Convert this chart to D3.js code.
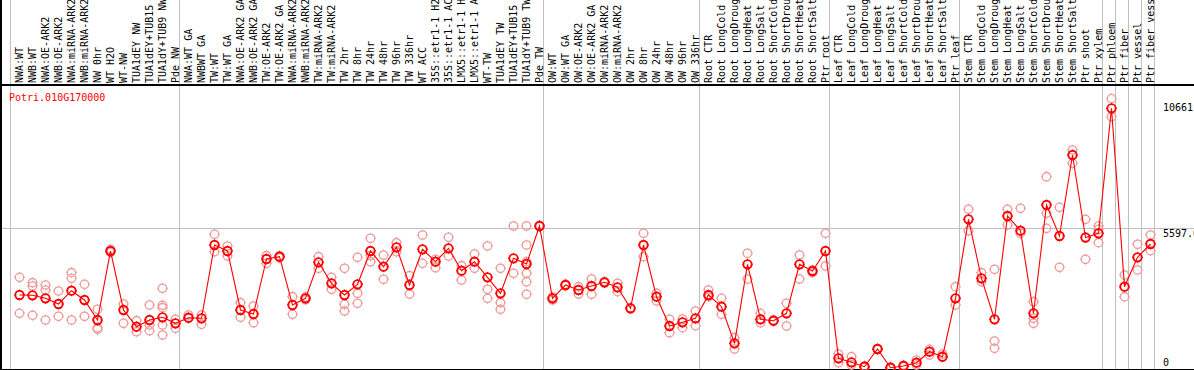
<!DOCTYPE html>
<html>
<head>
<meta charset="utf-8">
<title>Potri.010G170000</title>
<script src="https://d3js.org/d3.v7.min.js"></script>
<style>
  body { margin: 0; background: #fff; }
  text { font-family: "DejaVu Sans Mono", monospace; font-size: 10px; }
  .sep { stroke: #c0c0c0; stroke-width: 1px; shape-rendering: crispEdges; }
  .frame { stroke: #000; stroke-width: 1.5px; shape-rendering: crispEdges; }
</style>
</head>
<body>
<div id="chart"></div>
<script>
var gene = "Potri.010G170000";

var categories = [
  "NWA:WT", "NWB:WT", "NWA:OE-ARK2", "NWB:OE-ARK2", "NWA:miRNA-ARK2", "NWB:miRNA-ARK2",
  "NW 0hr", "WT H2O", "WT-NW", "TUA1dEY NW", "TUA1dEY+TUB15 NW", "TUA1dY+TUB9 NW", "Pde NW",
  "NWA:WT GA", "NWBWT GA", "TW:WT", "TW:WT GA", "NWA:OE-ARK2 GA", "NWB:OE-ARK2 GA",
  "TW:OE-ARK2", "TW:OE-ARK2 GA", "NWA:miRNA-ARK2 GA", "NWB:miRNA-ARK2 GA", "TW:miRNA-ARK2",
  "TW:miRNA-ARK2", "TW 2hr", "TW 8hr", "TW 24hr", "TW 48hr", "TW 96hr", "TW 336hr", "WT ACC",
  "35S::etr1-1 H2O", "35S::etr1-1 ACC", "LMX5::etr1-1 H2O", "LMX5::etr1-1 ACC", "WT-TW",
  "TUA1dEY TW", "TUA1dEY+TUB15 TW", "TUA1dY+TUB9 TW", "Pde TW",
  "OW:WT", "OW:WT GA", "OW:OE-ARK2", "OW:OE-ARK2 GA", "OW:miRNA-ARK2", "OW:miRNA-ARK2",
  "OW 2hr", "OW 8hr", "OW 24hr", "OW 48hr", "OW 96hr", "OW 336hr",
  "Root CTR", "Root LongCold", "Root LongDrought", "Root LongHeat", "Root LongSalt",
  "Root ShortCold", "Root ShortDrought", "Root ShortHeat", "Root ShortSalt", "Ptr root",
  "Leaf CTR", "Leaf LongCold", "Leaf LongDrought", "Leaf LongHeat", "Leaf LongSalt",
  "Leaf ShortCold", "Leaf ShortDrought", "Leaf ShortHeat", "Leaf ShortSalt", "Ptr leaf",
  "Stem CTR", "Stem LongCold", "Stem LongDrought", "Stem LongHeat", "Stem LongSalt",
  "Stem ShortCold", "Stem ShortDrought", "Stem ShortHeat", "Stem ShortSalt", "Ptr shoot",
  "Ptr xylem", "Ptr phloem", "Ptr fiber", "Ptr vessel", "Ptr fiber vessel"
];

// mean expression per sample
var means = [
  2975, 2963, 2845, 2622, 3143, 2779, 1996, 4697, 2388, 1734, 1996, 2102, 1867,
  2086, 2063, 4932, 4697, 2388, 2231, 4384, 4474, 2583, 2845, 4255, 3433, 2975,
  3393, 4697, 4082, 4842, 3366, 4763, 4278, 4803, 3926, 4278, 3667, 3041, 4411,
  4188, 5675,
  2845, 3366, 3170, 3327, 3472, 3276, 2454, 4932, 2908, 1761, 1906, 2063,
  2975, 2517, 1084, 4176, 2024, 1969, 2258, 4176, 3914, 4697,
  497, 341, 168, 861, 129, 196, 325, 755, 560, 2845,
  5937, 3628, 2024, 6067, 5491, 2258, 6497, 5284, 8454, 5225, 5390,
  10282, 3300, 4450, 4971
];

// individual replicates per sample
var replicates = [
  [3667, 2258], [3456, 3327, 2180], [3366, 3170, 1996], [3131, 2141], [3848, 3628, 1996],
  [3393, 2141], [2415, 1695, 1632], [4763, 4646], [2622, 1867], [1969, 1538],
  [2583, 1800, 1577], [3237, 2571, 2478, 1800, 1409], [2024, 1671],
  [2192, 2063], [2192, 1828], [5350, 4669], [4893, 4501], [2673, 2102], [2544, 1890],
  [4513, 4215], [4513, 4430], [2908, 2219], [2900, 2790], [4474, 4020], [3667, 3198],
  [4020, 2611, 2348], [4450, 3041, 2650], [5194, 4513, 4278], [4540, 3589], [5022, 4669],
  [3730, 3014], [5323, 4215], [4372, 4043], [5233, 4501], [4122, 3562], [4579, 4020],
  [4893, 3198, 2845], [4020, 2673, 2415], [5675, 3824], [5675, 4932, 4278, 3824, 3495, 3002],
  [5700, 5650],
  [2779, 2900], [3400, 3330], [3300, 3014], [3601, 3002], [3500, 3440], [3433, 3104],
  [2480, 2430], [5390, 4474], [3041, 2740], [2024, 1499], [2035, 1695], [2348, 1773],
  [3170, 2908], [2845, 2219], [1303, 861], [4607, 3601], [2258, 1890], [2000, 1940],
  [2650, 1761], [4540, 3601], [3848, 3950], [5390, 4110],
  [665, 325], [560, 235], [200, 140], [880, 840], [150, 110], [230, 170], [431, 235],
  [849, 626], [665, 540], [3300, 2583],
  [6329, 5491], [3848, 3495], [3981, 1174, 888], [6329, 5714], [6368, 5390],
  [2712, 2063, 1867], [7605, 6172, 5585], [6407, 4059], [8650, 8129], [5937, 4372],
  [5675, 5546, 5022],
  [10661, 9953], [3757, 2908], [4959, 3953], [5323, 4709]
];

// first sample index of every boxed group, plus the end
var groupStarts = [0, 13, 41, 53, 63, 73, 84, 85, 86, 87, 88];

var yMax = 11194;
var yTicks = [0, 5597, 10661];
var yTickLabels = ["0", "5597.0", "10661"];

var width = 1194, height = 370;
var plotTop = 85, plotBottom = 371;
var colStart = 11, colStep = 13;

var svg = d3.select("#chart").append("svg")
    .attr("width", width)
    .attr("height", height);

var x = d3.scaleBand()
    .domain(d3.range(categories.length))
    .range([colStart, colStart + colStep * categories.length])
    .paddingInner(0).paddingOuter(0);

var px = function(i) { return x(i) + 8.5; };
var edge = function(d) {
  return d === categories.length ? x(d - 1) + x.step() : x(d);
};

var y = d3.scaleLinear()
    .domain([0, yMax])
    .range([plotBottom, plotTop]);

// middle grid line
svg.append("line")
    .attr("class", "sep")
    .attr("x1", 0).attr("x2", width)
    .attr("y1", Math.round(y(yMax / 2)) + 0.5)
    .attr("y2", Math.round(y(yMax / 2)) + 0.5);

// group separators
svg.selectAll("line.group")
    .data(groupStarts)
    .enter().append("line")
    .attr("class", "sep")
    .attr("x1", function(d) { return Math.round(edge(d)) - 0.5; })
    .attr("x2", function(d) { return Math.round(edge(d)) - 0.5; })
    .attr("y1", 0).attr("y2", height);

// frame
svg.append("line").attr("class", "frame")
    .attr("x1", 0).attr("x2", width).attr("y1", plotTop).attr("y2", plotTop);
svg.append("line").attr("class", "frame")
    .attr("x1", 0.75).attr("x2", 0.75).attr("y1", 0).attr("y2", height);
svg.append("line").attr("class", "frame")
    .attr("x1", 0).attr("x2", width).attr("y1", 369.25).attr("y2", 369.25);

// rotated sample labels
svg.selectAll("text.cat")
    .data(categories)
    .enter().append("text")
    .attr("class", "cat")
    .attr("transform", function(d, i) { return "translate(" + (px(i) + 3.5) + ",83) rotate(-90)"; })
    .attr("fill", "#000")
    .text(function(d) { return d; });

// gene name
svg.append("text")
    .attr("x", 9).attr("y", 100.5)
    .attr("fill", "#ff0000")
    .text(gene);

// right value labels
svg.selectAll("text.tick")
    .data(yTicks)
    .enter().append("text")
    .attr("class", "tick")
    .attr("x", 1163)
    .attr("y", function(d) { return Math.min(Math.max(y(d) + 8.5, 111), 365.5); })
    .attr("fill", "#000")
    .text(function(d, i) { return yTickLabels[i]; });

function marker(sel, r) {
  sel.append("circle").attr("r", r).attr("fill", "none");
  sel.append("path")
    .attr("stroke-width", 1)
    .attr("d", "M0," + (-r - 1.2) + "V" + (-r) + "M0," + r + "V" + (r + 1.2) +
               "M" + (-r - 1.2) + ",0H" + (-r) + "M" + r + ",0H" + (r + 1.2));
}

// replicates
var reps = [];
replicates.forEach(function(list, i) {
  list.forEach(function(v) { reps.push({ i: i, v: v }); });
});

var repG = svg.append("g")
    .attr("stroke", "#f09a9a")
    .attr("stroke-width", 1.3);
repG.selectAll("g")
    .data(reps)
    .enter().append("g")
    .attr("transform", function(d) { return "translate(" + px(d.i) + "," + y(d.v) + ")"; })
    .call(marker, 4.2);

// mean line
var line = d3.line()
    .x(function(d, i) { return px(i); })
    .y(function(d) { return y(d); });

svg.append("path")
    .datum(means)
    .attr("fill", "none")
    .attr("stroke", "#ff0000")
    .attr("stroke-width", 1.1)
    .attr("d", line);

var meanG = svg.append("g")
    .attr("stroke", "#ff0000")
    .attr("stroke-width", 1.9);
meanG.selectAll("g")
    .data(means)
    .enter().append("g")
    .attr("transform", function(d, i) { return "translate(" + px(i) + "," + y(d) + ")"; })
    .call(marker, 4.2);
</script>
</body>
</html>
